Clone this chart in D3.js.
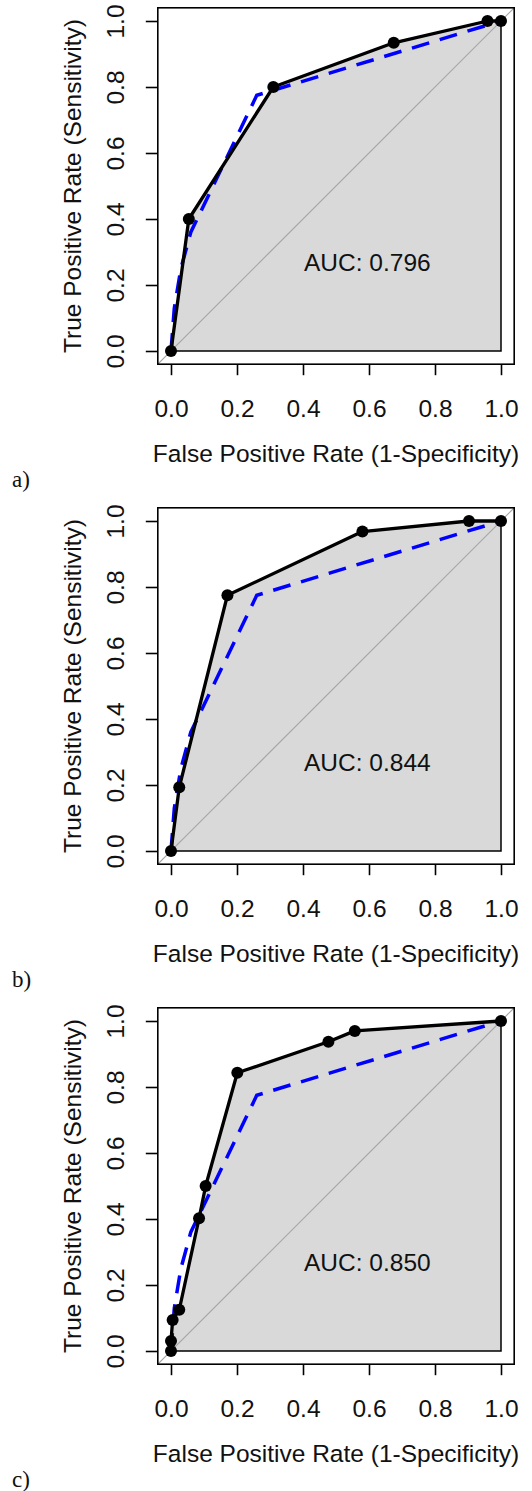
<!DOCTYPE html>
<html lang="en">
  <head>
    <meta charset="UTF-8" />
    <title>ROC curves</title>
    <script src="https://cdn.jsdelivr.net/npm/d3@7"></script>
    <style>
      body { margin: 0; background: #fff; }
      svg { display: block; }
      text { font-family: "Liberation Sans", Arial, sans-serif; fill: #111; }
      .letter { font-family: "Liberation Serif", "Times New Roman", serif; }
    </style>
  </head>
  <body>
    <svg width="532" height="1491"></svg>
    <script>
      // ROC points (x = 1 - specificity, y = sensitivity)
      const fprA = [0, 0.054, 0.31, 0.675, 0.959, 1];
      const tprA = [0, 0.40, 0.80, 0.934, 1, 1];
      const fprB = [0, 0.025, 0.171, 0.58, 0.903, 1];
      const tprB = [0, 0.193, 0.775, 0.968, 1, 1];
      const fprC = [0, 0, 0.005, 0.025, 0.085, 0.105, 0.201, 0.477, 0.557, 1];
      const tprC = [0, 0.03, 0.094, 0.125, 0.402, 0.50, 0.843, 0.937, 0.970, 1];
      // blue dashed reference curve (same in every panel)
      const refFpr = [0, 0.01, 0.03, 0.06, 0.26, 1];
      const refTpr = [0, 0.13, 0.25, 0.36, 0.775, 1];
      const aucLabels = ["AUC: 0.796", "AUC: 0.844", "AUC: 0.850"];
      const panelLetters = ["a)", "b)", "c)"];
      const tickValues = [0, 0.2, 0.4, 0.6, 0.8, 1.0];

      const panels = [
        { fpr: fprA, tpr: tprA },
        { fpr: fprB, tpr: tprB },
        { fpr: fprC, tpr: tprC }
      ];

      const svg = d3.select("svg");
      const panelH = 500;
      const fs = "24.5px";

      // plot region: data 0..1 with R's 4% padding on each side
      const x = d3.scaleLinear().domain([0, 1]).range([171, 501]);
      const y = d3.scaleLinear().domain([0, 1]).range([351, 21]);
      const xl = x(-0.04), xr = x(1.04), yt = y(1.04), yb = y(-0.04);

      const line = d3.line().x(d => x(d[0])).y(d => y(d[1]));

      panels.forEach((p, i) => {
        const g = svg.append("g").attr("transform", `translate(0,${i * panelH})`);
        const pts = p.fpr.map((v, k) => [v, p.tpr[k]]);

        // auc polygon
        g.append("path")
          .attr("d", line(pts.concat([[1, 0], [0, 0]])) + "Z")
          .attr("fill", "#d9d9d9")
          .attr("stroke", "#000")
          .attr("stroke-width", 1.5);

        // identity line, clipped to the box
        g.append("line")
          .attr("x1", xl).attr("y1", yb)
          .attr("x2", xr).attr("y2", yt)
          .attr("stroke", "#a6a6a6")
          .attr("stroke-width", 1.2);

        // reference curve
        g.append("path")
          .attr("d", line(refFpr.map((v, k) => [v, refTpr[k]])))
          .attr("fill", "none")
          .attr("stroke", "#0000ff")
          .attr("stroke-width", 3.5)
          .attr("stroke-dasharray", "18 11");

        // roc curve + points
        g.append("path")
          .attr("d", line(pts))
          .attr("fill", "none")
          .attr("stroke", "#000")
          .attr("stroke-width", 3.3)
          .attr("stroke-linejoin", "round");

        g.selectAll("circle")
          .data(pts)
          .join("circle")
          .attr("cx", d => x(d[0]))
          .attr("cy", d => y(d[1]))
          .attr("r", 6)
          .attr("fill", "#000");

        // box
        g.append("rect")
          .attr("x", xl).attr("y", yt)
          .attr("width", xr - xl).attr("height", yb - yt)
          .attr("fill", "none")
          .attr("stroke", "#000")
          .attr("stroke-width", 1.6);

        // x axis
        const gx = g.append("g")
          .attr("transform", `translate(0,${yb})`)
          .call(d3.axisBottom(x).tickValues(tickValues).tickFormat(d3.format(".1f")).tickSize(11).tickSizeOuter(0));
        gx.select(".domain").remove();
        gx.selectAll("line").attr("stroke", "#000").attr("stroke-width", 1.6);
        gx.selectAll("text")
          .attr("y", 53).attr("dy", 0)
          .style("font-size", fs);

        // y axis
        const gy = g.append("g")
          .attr("transform", `translate(${xl},0)`)
          .call(d3.axisLeft(y).tickValues(tickValues).tickFormat(d3.format(".1f")).tickSize(12).tickSizeOuter(0));
        gy.select(".domain").remove();
        gy.selectAll("line").attr("stroke", "#000").attr("stroke-width", 1.6);
        gy.selectAll("text")
          .attr("x", 0).attr("y", 0).attr("dy", 0)
          .attr("text-anchor", "middle")
          .attr("transform", `translate(${124 - xl},0) rotate(-90)`)
          .style("font-size", fs);

        // titles
        g.append("text")
          .attr("x", (x(0) + x(1)) / 2)
          .attr("y", 461.5)
          .attr("text-anchor", "middle")
          .style("font-size", fs)
          .text("False Positive Rate (1-Specificity)");

        g.append("text")
          .attr("transform", `translate(81,${(y(0) + y(1)) / 2}) rotate(-90)`)
          .attr("text-anchor", "middle")
          .style("font-size", fs)
          .text("True Positive Rate (Sensitivity)");

        g.append("text")
          .attr("x", x(0.595))
          .attr("y", 270.7)
          .attr("text-anchor", "middle")
          .style("font-size", fs)
          .text(aucLabels[i]);

        g.append("text")
          .attr("class", "letter")
          .attr("x", 12)
          .attr("y", 486.5)
          .style("font-size", "23px")
          .text(panelLetters[i]);
      });
    </script>
  </body>
</html>
